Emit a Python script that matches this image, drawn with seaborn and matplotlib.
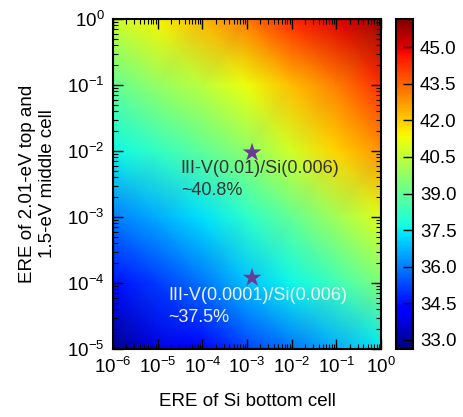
import numpy as np
import matplotlib
matplotlib.use("Agg")
import matplotlib.pyplot as plt
import matplotlib.ticker as mticker
import seaborn as sns
import pandas as pd

# --- data ---
si_ere = [1e-6, 1e-5, 1e-4, 1e-3, 1e-2, 1e-1, 1e0]          # x (columns)
iiiv_ere = [1e-5, 1e-4, 1e-3, 1e-2, 1e-1, 1e0]              # y (rows)
eff_row_1e_5 = [32.8, 33.8, 34.3, 35.2, 35.9, 36.6, 37.4]
eff_row_1e_4 = [34.5, 35.1, 35.9, 36.9, 37.6, 38.4, 39.4]
eff_row_1e_3 = [36.0, 36.6, 37.3, 38.1, 39.0, 40.0, 41.0]
eff_row_1e_2 = [37.6, 38.2, 38.9, 39.7, 40.8, 41.9, 42.8]
eff_row_1e_1 = [39.0, 39.8, 40.4, 41.2, 42.2, 43.1, 44.3]
eff_row_1e0 = [40.7, 41.4, 42.3, 43.2, 44.4, 45.0, 45.8]

star_x = [1.3e-3, 1.3e-3]
star_y = [9.5e-3, 1.2e-4]
labels = ["III-V(0.01)/Si(0.006)\n~40.8%", "III-V(0.0001)/Si(0.006)\n~37.5%"]

cbar_ticks = [33.0, 34.5, 36.0, 37.5, 39.0, 40.5, 42.0, 43.5, 45.0]
vmin, vmax = 32.63, 46.15

sns.set_style("ticks")
plt.rcParams['font.family'] = ['Liberation Sans', 'DejaVu Sans']
plt.rcParams['mathtext.default'] = 'regular'
plt.rcParams['axes.unicode_minus'] = False
plt.rcParams['text.color'] = 'black'
plt.rcParams['axes.labelcolor'] = 'black'
plt.rcParams['xtick.color'] = 'black'
plt.rcParams['ytick.color'] = 'black'

Z = np.array([eff_row_1e_5, eff_row_1e_4, eff_row_1e_3,
              eff_row_1e_2, eff_row_1e_1, eff_row_1e0])
X, Y = np.meshgrid(si_ere, iiiv_ere)

fig = plt.figure(figsize=(4.64, 4.17), dpi=100)
ax = fig.add_axes([0.2435, 0.163, 0.5775, 0.7914])
cax = fig.add_axes([0.8534, 0.163, 0.0366, 0.7914])

ax.set_xscale('log')
ax.set_yscale('log')
mesh = ax.pcolormesh(X, Y, Z, cmap='jet', vmin=vmin, vmax=vmax, shading='gouraud')
ax.set_xlim(1e-6, 1)
ax.set_ylim(1e-5, 1)
ax.set_axisbelow(False)

df = pd.DataFrame({"x": star_x, "y": star_y})
sns.scatterplot(data=df, x="x", y="y", ax=ax, marker='*', s=200,
                color='#6b3a96', edgecolor='none', zorder=5, legend=False)

ax.text(3.3e-5, 7.3e-3, labels[0], fontsize=13, color='#333333',
        ha='left', va='top', linespacing=1.35)
ax.text(1.7e-5, 8.7e-5, labels[1], fontsize=13, color='#f2f2f2',
        ha='left', va='top', linespacing=1.35)

ax.set_xlabel("ERE of Si bottom cell", fontsize=13.5, labelpad=11)
ax.set_ylabel("ERE of 2.01-eV top and\n1.5-eV middle cell", fontsize=13.5, labelpad=8)

ax.xaxis.set_major_locator(mticker.LogLocator(base=10, numticks=10))
ax.yaxis.set_major_locator(mticker.LogLocator(base=10, numticks=10))
ax.xaxis.set_minor_locator(mticker.LogLocator(base=10, subs=np.arange(2, 10), numticks=20))
ax.yaxis.set_minor_locator(mticker.LogLocator(base=10, subs=np.arange(2, 10), numticks=20))
ax.xaxis.set_minor_formatter(mticker.NullFormatter())
ax.yaxis.set_minor_formatter(mticker.NullFormatter())
ax.tick_params(which='both', direction='in', top=True, right=True, color='black')
ax.tick_params(which='major', length=7, width=1, labelsize=13.5, pad=6)
ax.tick_params(which='minor', length=3.5, width=0.8)
for s in ax.spines.values():
    s.set_linewidth(1.5)
    s.set_color('black')

cb = fig.colorbar(mesh, cax=cax, ticks=cbar_ticks)
cb.ax.set_axisbelow(False)
cb.ax.yaxis.set_major_formatter(mticker.FormatStrFormatter('%.1f'))
cb.ax.tick_params(direction='in', length=7, width=1, labelsize=13.5, pad=5, color='black')
cb.ax.minorticks_off()
cb.outline.set_linewidth(1.5)
cb.outline.set_edgecolor('black')

fig.savefig("out.png", dpi=100)
